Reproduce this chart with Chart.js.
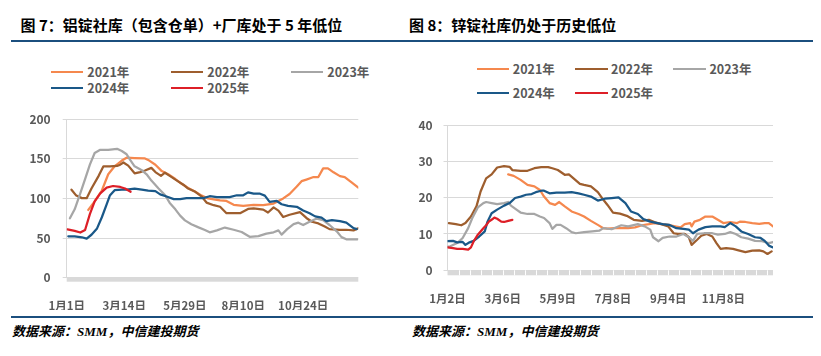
<!DOCTYPE html>
<html><head><meta charset="utf-8">
<script src="https://cdn.jsdelivr.net/npm/chart.js@4.4.1/dist/chart.umd.min.js"></script>
<style>
html,body{margin:0;padding:0;background:#fff;}
body{width:821px;height:356px;position:relative;overflow:hidden;font-family:"Noto Sans CJK SC","Noto Sans",sans-serif;}
.title{position:absolute;top:14.5px;font-size:15px;font-weight:700;color:#000;white-space:nowrap;line-height:20px;}
.bar{position:absolute;height:2.4px;background:#1B4F7E;}
.src{position:absolute;top:322px;font-size:13px;font-weight:700;font-style:italic;color:#000;white-space:nowrap;line-height:18px;}
.src .en{font-family:"Liberation Serif",serif;}
.lg{position:absolute;font-size:12.5px;font-weight:700;color:#595959;white-space:nowrap;line-height:16px;}
.lgline{position:absolute;height:2px;}
canvas{position:absolute;}
</style></head>
<body>
<div class="title" style="left:20.5px">图 7：铝锭社库（包含仓单）+厂库处于 5 年低位</div>
<div class="title" style="left:409px">图 8：锌锭社库仍处于历史低位</div>
<div class="bar" style="left:11px;top:39.6px;width:399px"></div>
<div class="bar" style="left:410px;top:39.6px;width:403px"></div>
<div class="bar" style="left:11px;top:315.8px;width:399px"></div>
<div class="bar" style="left:410px;top:315.8px;width:403px"></div>
<div class="src" style="left:12px">数据来源：<span class="en">SMM</span>，中信建投期货</div>
<div class="src" style="left:412px">数据来源：<span class="en">SMM</span>，中信建投期货</div>
<div id="legends"></div>
<canvas id="c1" width="410" height="210" style="left:0;top:100px;width:410px;height:210px"></canvas>
<canvas id="c2" width="411" height="210" style="left:410px;top:100px;width:411px;height:210px"></canvas>
<script>
// ---------- shared ----------
const SERIES_NAMES = ['2021年', '2022年', '2023年', '2024年', '2025年'];
const SERIES_COLORS = ['#F5884E', '#9E5E2E', '#A6A6A6', '#1A5888', '#DD1F27'];

// ---------- Chart 7: aluminium ingot inventory (万吨), x = day of year ----------
const AL_X_TICKS = [0, 72, 148, 221, 296];
const AL_X_LABELS = ['1月1日', '3月14日', '5月29日', '8月10日', '10月24日'];

const al2021Days = [27,35,44,52,60,69,75,85,98,102,111,119,127,136,144,152,161,169,177,184,192,200,209,221,234,246,259,271,279,288,294,300,309,315,321,327,334,342,348,357,365];
const al2021 = [85.5,96.4,110,130.5,140.6,147.8,151.4,151,150.5,148.6,142.6,134.5,130.5,124.5,118.5,113.2,108.4,103.6,100,98.8,97.5,96.8,92,90.7,92,91.5,93.5,100,105.6,115,121.8,123.8,127,127,138,138,133,128.2,127,120,113.7];

const al2022Days = [6,12,19,25,31,40,46,54,63,67,71,77,85,92,98,106,111,118,123,129,138,146,152,161,169,175,184,192,200,217,227,234,246,252,259,265,271,279,292,300,307,315,323,329,342,350,359,365];
const al2022 = [111,103.6,100.4,100.4,112.5,128.5,140.6,140.6,141,142.6,145.4,141.4,131.7,133.3,135.3,138.6,133.3,128.5,132.5,128.5,122.5,117.3,112.5,108.4,102.4,94.8,91.5,89.5,81.4,81.4,86.7,87.5,85.9,82.3,88.7,84.7,76.6,79.4,82.7,75.4,70.6,68.5,64.5,61.3,60.5,60.5,59.7,62.5];

const al2023Days = [4,10,17,23,29,35,42,52,63,69,75,79,85,94,100,106,115,123,129,136,142,148,156,165,173,179,188,198,209,219,229,240,250,259,265,269,276,284,290,296,304,313,321,329,338,344,350,359,364];
const al2023 = [75,86.3,106.4,124.5,142.6,157.4,161.4,161.4,162.6,159.8,155.8,149.4,140.6,135.7,130.5,122.5,112.5,104.4,94.4,86.3,78.3,72.3,67.5,63.5,60.2,57.3,59.7,63.3,60.5,57.7,51.6,52.4,55.6,57.3,59.7,54.4,61.3,67.7,69.4,66.5,70.6,74.6,72.6,66.5,58.5,51.2,48.4,48.4,48.4];

const al2024Days = [2,10,19,25,31,38,44,50,54,60,69,75,85,94,102,111,117,125,134,142,150,161,171,179,188,204,213,221,227,234,242,248,254,263,269,277,288,296,304,311,319,325,332,342,350,359,363];
const al2024 = [52.2,52.2,51,49.4,54.2,62.2,76.3,92.4,103.6,110.4,111.2,111.2,112.5,111.2,110,109.2,105.2,102.4,99.2,99.2,100.4,100.4,100.4,102.8,101.6,101.6,104,104,107.7,106,106,103.6,95.6,96.8,92.7,90.7,89.5,84.7,81.4,77.4,75.8,71.4,72.6,71.4,69.4,62.5,61.3];

const al2025Days = [1,10,17,23,29,35,42,50,58,67,73,80];
const al2025 = [61,59,57,60.2,80.3,96.4,106.4,113.7,115.7,114.5,112.5,108.4];

// ---------- Chart 8: zinc ingot inventory (万吨), x = trading-day index ----------
const ZN_X_TICKS = [0, 40, 80, 120, 160, 200];
const ZN_X_LABELS = ['1月2日', '3月6日', '5月9日', '7月8日', '9月4日', '11月8日'];

const zn2021Days = [44,48,53,58,63,67,70,74,78,81,85,90,95,99,104,109,113,116,121,126,131,136,141,146,150,155,160,165,169,172,176,177,179,183,187,192,196,200,205,210,212,216,221,226,230,233,236];
const zn2021 = [26.4,26,24.9,23.5,23.1,22.1,20.3,18.5,18,18.8,17.6,16.2,15.5,14.8,13.6,12.5,11.6,11.5,11.6,11.6,11.6,11.8,12.4,12.7,13,12.7,12.5,12.1,11.8,12.7,13,12.1,13.4,13.9,14.8,14.8,13.9,13,13.3,13,13.4,13.3,13,12.8,13,13,12.1];

const zn2022Days = [1,6,10,13,17,21,24,28,32,36,41,45,47,53,58,63,68,73,76,80,85,88,92,96,99,104,109,113,116,120,125,130,135,141,146,150,155,160,164,167,172,175,177,181,184,188,192,195,198,202,207,211,216,221,226,229,232,235];
const zn2022 = [13,12.7,12.4,13,14.8,17.6,21.7,25.3,26.4,28.3,28.7,28.5,27.6,27.4,27.4,28.1,28.4,28.4,28.1,27.6,26.3,26.4,25.1,23.8,23.5,23.1,21.5,19.4,18,15.9,15.6,15,13.9,13.6,13.9,13.3,12.7,12.1,10.2,10,10,9.1,7,8.4,9.5,10,9.3,7.5,5.9,6.1,5.9,5.5,5,5.4,5.5,5.2,4.5,5.2];

const zn2023Days = [0,2,7,11,15,18,22,26,28,32,36,41,44,46,50,53,58,63,67,70,74,76,79,82,86,90,93,99,105,110,113,119,126,131,138,143,147,149,153,156,161,166,171,175,178,181,186,192,196,201,205,209,213,218,223,228,233,236];
const zn2023 = [6.5,6.6,7.5,8.9,11.6,14.4,17.3,18.5,18.8,18.5,18.2,18.5,18.8,17.8,16.7,15.9,15.5,15.5,14.8,14.4,13,11.4,12.5,12.5,11.6,10.5,10.2,10.5,10.7,10.9,11.6,11.3,12.4,12.1,12.7,12.1,11.2,9.1,8,8.9,9.3,9.3,10,9.1,8.1,10,10.2,10.2,9.8,10,10.5,10,9.1,8.7,8.1,8,7.5,7.8];

const zn2024Days = [0,4,7,11,13,16,19,23,27,29,32,36,41,45,49,53,57,61,64,68,70,74,79,85,90,95,99,104,109,114,119,124,129,133,138,142,147,152,156,161,166,171,175,178,182,187,192,198,201,205,209,213,218,223,227,230,233,236];
const zn2024 = [8,8.1,7.7,7.8,7,7.7,8.1,9.3,10.7,13.4,15.7,16.7,17.8,18.5,19.9,20.3,20.8,21,21.5,21.9,21.9,21.2,21.4,21.4,21.5,21.2,20.8,20.3,19.2,19.7,19.9,20.1,18.5,16.2,15.5,14.1,13.4,13,12.7,12.5,11.6,11.4,11.2,10.2,11.2,11.9,12.1,12.1,11.9,13,12.1,10.7,10,9.1,8.9,8.1,6.8,6.3];

const zn2025Days = [0,4,7,11,15,17,19,22,26,28,30,33,34,36,39,41,44,47];
const zn2025 = [6.3,6.1,5.9,5.9,5.7,6.3,8,9.8,11.6,12.4,13.4,14.2,14.5,14.2,13.4,13.3,13.6,13.9];

// ---------- helpers ----------
const FONT = '"Noto Sans CJK SC", "Noto Sans", sans-serif';
const pair = (xs, ys) => xs.map((x, i) => ({ x: x, y: ys[i] }));

const bandPlugin = {
  id: 'band',
  beforeDatasetsDraw(chart, args, opts) {
    const a = chart.chartArea, ctx = chart.ctx;
    ctx.save();
    ctx.fillStyle = '#d9d9d9';
    ctx.fillRect(a.left, a.bottom, a.right - a.left, opts.h);
    if (opts.step) {
      const xs = chart.scales.x;
      ctx.fillStyle = '#ffffff';
      for (let v = opts.step; v < xs.max; v += opts.step) {
        const px = Math.round(xs.getPixelForValue(v));
        ctx.fillRect(px, a.bottom, 1, opts.h);
      }
    }
    ctx.restore();
  }
};

function makeChart(el, o) {
  return new Chart(el, {
    type: 'line',
    data: {
      datasets: o.series.map((s, i) => ({
        label: SERIES_NAMES[i], data: pair(s[0], s[1]),
        borderColor: SERIES_COLORS[i], backgroundColor: SERIES_COLORS[i],
        borderWidth: 2.25, pointRadius: 0, pointHoverRadius: 0, tension: 0, fill: false,
        order: 5 - i, borderJoinStyle: 'round', borderCapStyle: 'round'
      }))
    },
    options: {
      responsive: false, animation: false, devicePixelRatio: 1,
      layout: { padding: { top: o.padTop, right: o.padRight, left: 0, bottom: 0 } },
      plugins: { legend: { display: false }, tooltip: { enabled: false }, band: { h: o.bandH, step: o.bandStep } },
      scales: {
        x: {
          type: 'linear', min: 0, max: o.xMax,
          grid: { display: false }, border: { display: false },
          afterBuildTicks: (sc) => { sc.ticks = o.xTicks.map(v => ({ value: v })); },
          afterFit: (sc) => { sc.height = o.xH; },
          ticks: {
            autoSkip: false, maxRotation: 0, minRotation: 0, padding: o.xPad, color: '#595959',
            font: { family: FONT, size: 11.5, weight: 'bold' },
            callback: (v, i) => o.xLabels[i]
          }
        },
        y: {
          min: 0, max: o.yMax,
          afterFit: (sc) => { sc.width = o.yW; },
          grid: { color: '#d9d9d9', lineWidth: 1, drawTicks: true, tickLength: 4 },
          border: { color: '#d9d9d9', width: 1 },
          ticks: { stepSize: o.yStep, padding: o.yPad, color: '#595959', font: { family: FONT, size: 12, weight: 'bold' } }
        }
      }
    },
    plugins: [bandPlugin]
  });
}

// legends (HTML text)
function makeLegend(cols, rows, lineLen, textGap) {
  const host = document.getElementById('legends');
  SERIES_NAMES.forEach((name, i) => {
    const cx = cols[i % 3], cy = rows[Math.floor(i / 3)];
    const ln = document.createElement('div');
    ln.className = 'lgline';
    ln.style.cssText = `left:${cx}px;top:${cy - 1}px;width:${lineLen}px;background:${SERIES_COLORS[i]}`;
    host.appendChild(ln);
    const tx = document.createElement('div');
    tx.className = 'lg';
    tx.textContent = name;
    tx.style.cssText = `left:${cx + lineLen + textGap}px;top:${cy - 8}px`;
    host.appendChild(tx);
  });
}
makeLegend([50.7, 170.7, 290.7], [71.7, 87.7], 32.6, 4);
makeLegend([476.7, 575, 673.3], [69.2, 93.3], 32.6, 3.5);

makeChart(document.getElementById('c1'), {
  series: [[al2021Days, al2021], [al2022Days, al2022], [al2023Days, al2023], [al2024Days, al2024], [al2025Days, al2025]],
  xMax: 365, xTicks: AL_X_TICKS, xLabels: AL_X_LABELS,
  yMax: 200, yStep: 50,
  padTop: 13.3, padRight: 51.7, yW: 66.7, xH: 32.3, xPad: 12.9, yPad: 12,
  bandH: 4, bandStep: 0
});
makeChart(document.getElementById('c2'), {
  series: [[zn2021Days, zn2021], [zn2022Days, zn2022], [zn2023Days, zn2023], [zn2024Days, zn2024], [zn2025Days, zn2025]],
  xMax: 236, xTicks: ZN_X_TICKS, xLabels: ZN_X_LABELS,
  yMax: 40, yStep: 10,
  padTop: 25, padRight: 48, yW: 37.5, xH: 39.7, xPad: 13.6, yPad: 10.8,
  bandH: 5, bandStep: 8
});
</script>
</body></html>
